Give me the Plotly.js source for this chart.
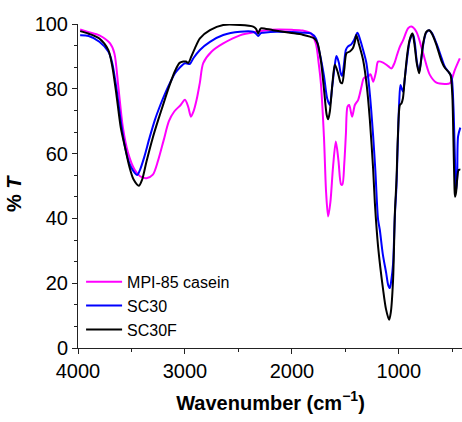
<!DOCTYPE html>
<html>
<head>
<meta charset="utf-8">
<script src="https://cdn.plot.ly/plotly-3.0.1.min.js"></script>
<style>
html,body{margin:0;padding:0;overflow:hidden;background:#fff;}
#chart{width:465px;height:422px;}
</style>
</head>
<body>
<div id="chart"></div>
<script>
// MPI-85 casein
const wnCasein = [3980, 3900, 3800, 3700, 3660, 3623, 3580, 3530, 3470, 3420, 3360, 3300, 3250, 3200, 3150, 3100, 3040, 3000, 2970, 2944, 2920, 2891, 2860, 2829, 2750, 2642, 2486, 2330, 2200, 2000, 1900, 1822, 1776, 1750, 1729, 1700, 1680, 1661, 1640, 1615, 1589, 1565, 1540, 1528, 1510, 1495, 1480, 1464, 1437, 1411, 1380, 1349, 1327, 1287, 1265, 1240, 1215, 1194, 1147, 1100, 1069, 1040, 1022, 990, 960, 913, 882, 836, 773, 710, 648, 570, 523, 477, 430];
const tCasein  = [98.3, 97.5, 96.5, 94, 91, 80.7, 68, 60, 55, 53, 52.4, 53.5, 58, 64, 70, 73, 75, 76.6, 74.5, 71.4, 73, 76.6, 82, 87.9, 91.5, 94, 96.5, 97.6, 98.2, 98.2, 98, 97.1, 94, 88, 81.7, 65, 48, 40.6, 45, 56, 63.7, 58, 50.5, 50.4, 57, 66, 74.5, 75, 71.4, 75, 76.6, 80.7, 83.3, 83.8, 84.5, 82.2, 85, 88.4, 88.1, 87, 86.3, 88, 89.9, 93, 95, 98.7, 99.2, 97.6, 91, 84.3, 81.9, 81.5, 81.7, 85.8, 89.4];

// SC30
const wnSC30 = [3980, 3900, 3800, 3717, 3680, 3640, 3600, 3560, 3520, 3480, 3446, 3420, 3380, 3330, 3280, 3230, 3180, 3130, 3093, 3050, 3000, 2970, 2953, 2920, 2860, 2766, 2642, 2486, 2362, 2335, 2315, 2290, 2268, 2144, 2000, 1900, 1822, 1776, 1740, 1700, 1670, 1645, 1625, 1600, 1583, 1560, 1545, 1530, 1515, 1495, 1477, 1443, 1420, 1387, 1360, 1330, 1303, 1270, 1240, 1220, 1194, 1178, 1150, 1118, 1100, 1084, 1070, 1054, 1037, 1022, 1010, 997, 985, 972, 960, 945, 920, 900, 880, 866, 850, 830, 810, 795, 770, 745, 717, 690, 648, 600, 570, 530, 508, 490, 475, 465, 455, 446, 425];
const tSC30  = [96.5, 96.3, 94.5, 91.5, 88, 80, 70, 62, 57, 54.5, 53.4, 55, 59, 65, 70.5, 75, 79, 82.5, 84.8, 86.5, 87.9, 87.7, 87.7, 89.5, 92, 94.5, 96.6, 97.6, 97.6, 97, 96.3, 97.2, 97.3, 97.6, 97.5, 97.3, 97.1, 95.6, 91, 84, 77, 75, 80, 87, 90.1, 88, 85, 84, 87, 92, 93, 93.8, 95, 97.3, 95, 91.5, 87.9, 78, 65.3, 55, 39.6, 36.5, 29, 23.1, 19.5, 18.5, 21, 26, 41, 50, 63, 75.5, 81.2, 80, 79.1, 83, 90, 94.5, 96.3, 96.6, 94, 88, 85.3, 88, 94, 97.3, 98.1, 97.2, 94, 89.5, 86.8, 85, 83.8, 75, 58, 48.5, 52, 65.3, 68];

// SC30F
const wnSC30F = [3980, 3900, 3800, 3717, 3680, 3640, 3600, 3561, 3520, 3480, 3430, 3400, 3360, 3300, 3250, 3200, 3150, 3093, 3050, 3016, 2990, 2969, 2940, 2907, 2860, 2766, 2642, 2486, 2362, 2335, 2315, 2295, 2284, 2176, 2019, 1900, 1832, 1790, 1760, 1730, 1700, 1675, 1661, 1645, 1620, 1598, 1570, 1545, 1530, 1510, 1489, 1458, 1430, 1411, 1398, 1375, 1334, 1300, 1271, 1240, 1224, 1194, 1147, 1120, 1091, 1075, 1054, 1037, 1022, 1008, 990, 976, 962, 945, 920, 900, 880, 872, 855, 830, 810, 795, 770, 745, 717, 690, 648, 600, 570, 530, 515, 500, 490, 480, 475, 465, 455, 440, 425];
const tSC30F  = [97.8, 97, 95.5, 92, 87, 78, 68, 62, 56, 52, 50.1, 52, 57.5, 65, 70.4, 75.5, 80.5, 85.5, 88, 88.4, 88.4, 88, 90, 92.5, 95.6, 98.1, 99.7, 99.7, 99.2, 98.5, 97.1, 98.5, 98.7, 98.1, 97.3, 96.7, 96.1, 95.5, 94, 89, 80, 72, 70.6, 73, 82, 87.4, 85, 82, 81.7, 86, 91, 91.5, 92.5, 94.5, 96.6, 94, 88.9, 81, 70.4, 55, 44.7, 31.3, 18, 12, 8.7, 11, 21, 41.6, 51.9, 66, 75, 75.5, 77, 83, 91, 95, 96.8, 97.1, 94, 87.5, 84.8, 88, 94.5, 97.5, 98.1, 97, 93.5, 88.5, 86.5, 85, 84, 78, 65, 50, 46.7, 48, 52, 55, 55];

const seriesNames = ['MPI-85 casein', 'SC30', 'SC30F'];
const seriesColors = ['#ff00ff', '#0000ff', '#000000'];
const xTickVals = [4000, 3000, 2000, 1000];
const yTickVals = [0, 20, 40, 60, 80, 100];

const wnAll = [wnCasein, wnSC30, wnSC30F];
const tAll = [tCasein, tSC30, tSC30F];

const traces = seriesNames.map((n, i) => ({
  x: wnAll[i], y: tAll[i], name: n, type: 'scatter', mode: 'lines',
  line: {color: seriesColors[i], width: 2, shape: 'spline', smoothing: 0.8}
}));

const fontFam = 'Liberation Sans, Arial, sans-serif';
const axCommon = {showgrid: false, zeroline: false, showline: true, linecolor: '#222', linewidth: 1, tickcolor: '#222'};

const layout = {
  width: 465, height: 422,
  margin: {l: 78, r: 2, t: 24, b: 74},
  paper_bgcolor: '#fff', plot_bgcolor: '#fff',
  font: {family: fontFam, color: '#000'},
  showlegend: true,
  legend: {x: 0.008, xanchor: 'left', y: 0.13, yanchor: 'middle', bgcolor: 'rgba(0,0,0,0)',
           font: {size: 16, family: fontFam, color: '#000'}, itemwidth: 36, tracegroupgap: 0},
  xaxis: Object.assign({}, axCommon, {
    range: [4000, 400], tickvals: xTickVals, ticktext: xTickVals.map(String),
    ticks: 'outside', ticklen: 5, tickwidth: 1,
    minor: {dtick: 500, tick0: 0, ticks: 'outside', ticklen: 3, tickcolor: '#222'},
    tickfont: {size: 20, family: fontFam},
    title: {text: '<b>Wavenumber (cm<sup>−1</sup>)</b>', font: {size: 20, family: fontFam}, standoff: 14},
    automargin: false
  }),
  yaxis: Object.assign({}, axCommon, {
    range: [0, 100], tickvals: yTickVals, ticktext: yTickVals.map(String),
    ticks: 'outside', ticklen: 5, tickwidth: 1,
    minor: {dtick: 20/3, tick0: 0, ticks: 'outside', ticklen: 3, tickcolor: '#222'},
    tickfont: {size: 20, family: fontFam},
    title: {text: '<b>% <i>T</i>\u00a0\u00a0\u00a0</b>', font: {size: 20, family: fontFam}, standoff: 7},
    automargin: false
  }),
  xaxis2: Object.assign({}, axCommon, {
    overlaying: 'x', side: 'top', anchor: 'y', range: [4000, 400], tickvals: xTickVals,
    ticks: 'inside', ticklen: 5, showticklabels: false,
    minor: {dtick: 500, tick0: 0, ticks: 'inside', ticklen: 3, tickcolor: '#222'}
  }),
  yaxis2: Object.assign({}, axCommon, {
    overlaying: 'y', side: 'right', anchor: 'x', range: [0, 100], tickvals: yTickVals,
    ticks: 'inside', ticklen: 6, showticklabels: false,
    minor: {dtick: 20/3, tick0: 0, ticks: 'inside', ticklen: 3, tickcolor: '#222'}
  })
};

Plotly.newPlot('chart', traces, layout, {staticPlot: true, displayModeBar: false});
</script>
</body>
</html>
